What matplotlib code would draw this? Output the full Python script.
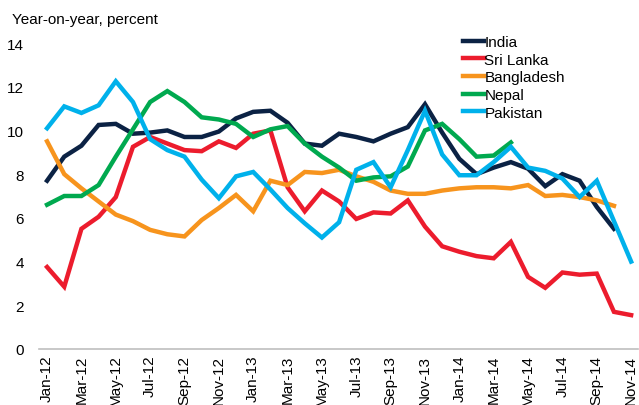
import numpy as np
import matplotlib
matplotlib.use("Agg")
from matplotlib import pyplot as plt

plt.rcParams['font.family'] = ['Liberation Sans', 'DejaVu Sans']

# monthly labels Jan-12 .. Nov-14
months = ['Jan-12', 'Feb-12', 'Mar-12', 'Apr-12', 'May-12', 'Jun-12', 'Jul-12', 'Aug-12',
          'Sep-12', 'Oct-12', 'Nov-12', 'Dec-12', 'Jan-13', 'Feb-13', 'Mar-13', 'Apr-13',
          'May-13', 'Jun-13', 'Jul-13', 'Aug-13', 'Sep-13', 'Oct-13', 'Nov-13', 'Dec-13',
          'Jan-14', 'Feb-14', 'Mar-14', 'Apr-14', 'May-14', 'Jun-14', 'Jul-14', 'Aug-14',
          'Sep-14', 'Oct-14', 'Nov-14']

india = [7.7, 8.8, 9.3, 10.25, 10.3, 9.85, 9.9, 10.0, 9.7, 9.7, 9.95, 10.55,
         10.85, 10.9, 10.35, 9.4, 9.3, 9.85, 9.7, 9.5, 9.85, 10.15, 11.2, 9.9,
         8.7, 8.0, 8.3, 8.55, 8.25, 7.45, 8.0, 7.7, 6.5, 5.5]
sri_lanka = [3.75, 2.85, 5.5, 6.05, 6.95, 9.25, 9.7, 9.4, 9.1, 9.05, 9.5, 9.2,
             9.85, 10.0, 7.4, 6.3, 7.25, 6.75, 5.95, 6.25, 6.2, 6.8, 5.6, 4.7,
             4.45, 4.25, 4.15, 4.9, 3.3, 2.8, 3.5, 3.4, 3.45, 1.7, 1.55]
bangladesh = [9.5, 8.0, 7.35, 6.75, 6.15, 5.85, 5.45, 5.25, 5.15, 5.9, 6.45, 7.05,
              6.3, 7.7, 7.5, 8.1, 8.05, 8.2, 7.9, 7.65, 7.25, 7.1, 7.1, 7.25,
              7.35, 7.4, 7.4, 7.35, 7.5, 7.0, 7.05, 6.95, 6.8, 6.55]
nepal = [6.6, 7.0, 7.0, 7.5, 8.8, 10.05, 11.3, 11.8, 11.3, 10.6, 10.5, 10.3,
         9.7, 10.05, 10.2, 9.4, 8.8, 8.3, 7.7, 7.85, 7.9, 8.35, 10.0, 10.3,
         9.6, 8.8, 8.85, 9.45]
pakistan = [10.1, 11.1, 10.8, 11.15, 12.25, 11.3, 9.6, 9.1, 8.8, 7.75, 6.9, 7.9,
            8.1, 7.3, 6.45, 5.75, 5.1, 5.8, 8.2, 8.55, 7.4, 9.1, 10.9, 8.9,
            7.95, 7.95, 8.55, 9.25, 8.3, 8.15, 7.8, 6.95, 7.7, 5.85, 4.0]

series = [('India', india, '#0B2244'),
          ('Sri Lanka', sri_lanka, '#EC1C2D'),
          ('Bangladesh', bangladesh, '#F7941D'),
          ('Nepal', nepal, '#00A94F'),
          ('Pakistan', pakistan, '#00B1EB')]

fig = plt.figure(figsize=(6.39, 4.06), dpi=100)
ax = fig.add_axes([39 / 639, 56 / 406, 599 / 639, 306 / 406])

for name, vals, col in series:
    x = np.arange(len(vals))
    ax.plot(x, vals, color=col, lw=3.2, label=name, solid_joinstyle='miter')

ax.set_ylim(0, 14)
ax.set_xlim(-0.47, 34.4)
ax.set_yticks(range(0, 15, 2))
ax.set_xticks(range(0, len(months), 2))
ax.set_xticklabels(months[::2], rotation=90, fontsize=11)
ax.tick_params(axis='y', length=0, pad=11, labelsize=11)
ax.tick_params(axis='x', length=0, pad=4)

for s in ['top', 'right', 'left']:
    ax.spines[s].set_visible(False)
ax.spines['bottom'].set_color('#BFBFBF')
ax.spines['bottom'].set_linewidth(1.2)

fig.text(12 / 639, 1 - 20 / 406, 'Year-on-year, percent', fontsize=11, va='center', ha='left')

ax.legend(loc='upper left', bbox_to_anchor=(463 / 639, 1 - 36 / 406), bbox_transform=fig.transFigure,
          frameon=False, fontsize=11, handlelength=1.35, handletextpad=0.05,
          labelspacing=0.24, borderpad=0, borderaxespad=0)

fig.savefig('out.png', dpi=100)
